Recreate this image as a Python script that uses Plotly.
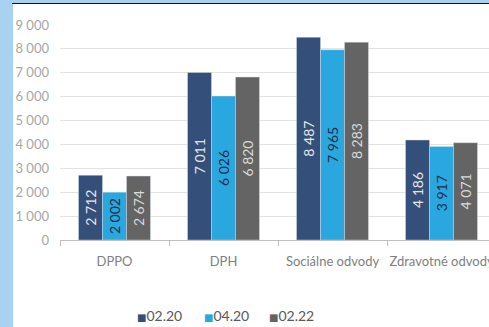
import plotly.graph_objects as go

categories = ["DPPO", "DPH", "Sociálne odvody", "Zdravotné odvody"]
series_names = ["02.20", "04.20", "02.22"]
v_0220 = [2712, 7011, 8487, 4186]
v_0420 = [2002, 6026, 7965, 3917]
v_0222 = [2674, 6820, 8283, 4071]
y_ticks = [0, 1000, 2000, 3000, 4000, 5000, 6000, 7000, 8000, 9000]

colors = ["#34507A", "#2BA7DF", "#646464"]
label_colors = ["#E6E6E6", "#1E2E4A", "#DADADA"]
FONT = "Lato"

fig = go.Figure()
for name, vals, c, lc in zip(series_names, [v_0220, v_0420, v_0222], colors, label_colors):
    fig.add_trace(go.Bar(
        x=categories, y=vals, name=name,
        marker=dict(color=c, line=dict(color="rgba(220,225,235,0.7)", width=0.6)),
        texttemplate="%{y:,d}",
        textposition="inside", insidetextanchor="middle", textangle=-90,
        textfont=dict(family=FONT, size=14, color=lc),
        showlegend=False,
    ))

W, H = 489, 327
L, R, T, B = 60, 0, 25, 87
pw = W - L - R
ph = H - T - B

def px(p):
    return (p - L) / pw

def py(p):
    return (H - B - p) / ph

shapes = [
    dict(type="rect", xref="paper", yref="paper", x0=px(0), x1=px(13), y0=py(H), y1=py(0),
         fillcolor="#A9D2F1", line=dict(width=0), layer="above"),
    dict(type="rect", xref="paper", yref="paper", x0=px(0), x1=px(W), y0=py(3), y1=py(0),
         fillcolor="#A9D2F1", line=dict(width=0), layer="above"),
    dict(type="line", xref="paper", yref="paper", x0=px(12), x1=px(W), y0=py(3.5), y1=py(3.5),
         line=dict(color="#111111", width=1.2), layer="above"),
]

# legend drawn as annotations (small square swatch + label)
legend_x = [135, 202, 267]
annotations = []
for name, c, lx in zip(series_names, colors, legend_x):
    annotations.append(dict(
        xref="paper", yref="paper", x=px(lx), y=py(315), xanchor="left", yanchor="middle",
        showarrow=False,
        text=f'<span style="color:{c};font-family:DejaVu Sans;font-size:10px">■</span>{name}',
        font=dict(family=FONT, size=14, color="#595959"),
    ))

fig.update_layout(
    width=W, height=H,
    margin=dict(l=L, r=R, t=T, b=B, autoexpand=False),
    paper_bgcolor="white", plot_bgcolor="white",
    barmode="group", bargap=0.34, bargroupgap=0,
    separators=", ",
    font=dict(family=FONT, size=13, color="#8C8C8C"),
    shapes=shapes,
    annotations=annotations,
    showlegend=False,
    xaxis=dict(range=[-0.5, 3.5 - (496 - 489) / 109], showgrid=False, showline=True,
               linecolor="#BFBFBF", linewidth=1, ticks="outside", tickson="boundaries",
               ticklen=5, tickcolor="#BFBFBF", tickangle=0,
               tickfont=dict(family=FONT, size=13, color="#808080"),
               ticklabelstandoff=9),
    yaxis=dict(range=[0, 9000], tickvals=y_ticks, tickformat=",d", showgrid=True,
               gridcolor="#E3E3E3", gridwidth=1, zeroline=False, showline=False,
               tickfont=dict(family=FONT, size=13, color="#A6A6A6"), ticklabelstandoff=10),
)

fig.write_html("out.html")
